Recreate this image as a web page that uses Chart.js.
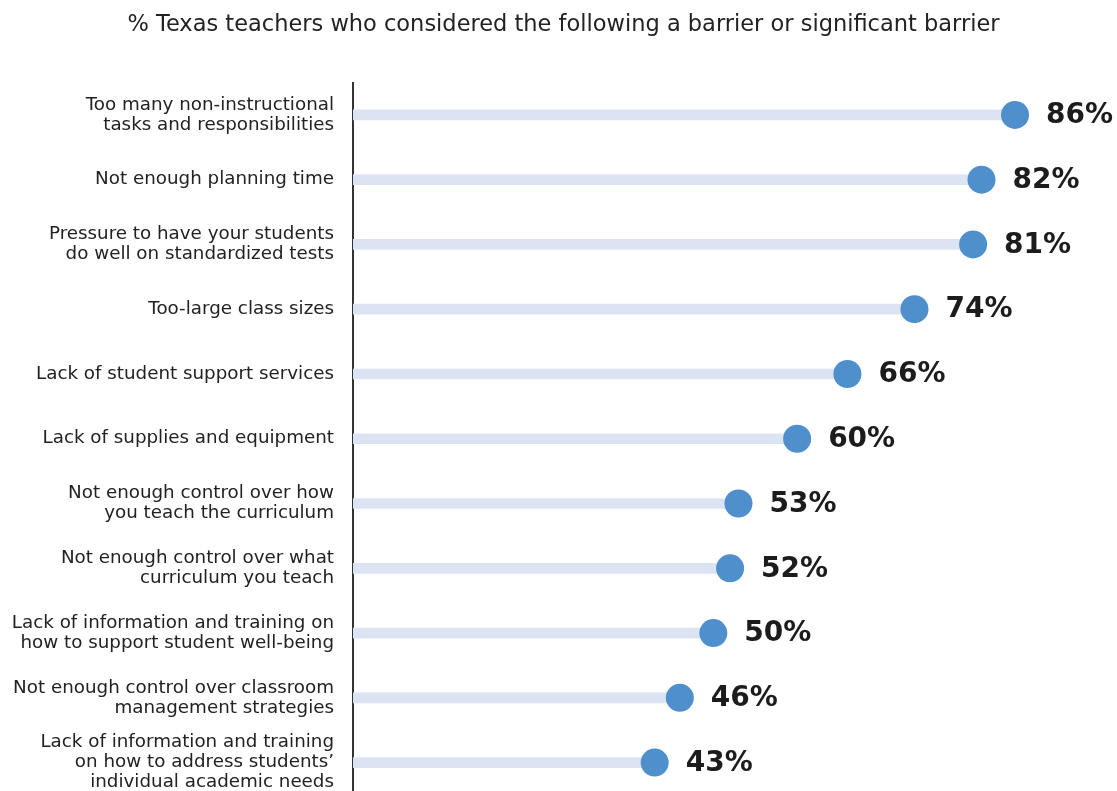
<!DOCTYPE html>
<html>
<head>
<meta charset="utf-8">
<script src="https://cdn.jsdelivr.net/npm/chart.js@4/dist/chart.umd.min.js"></script>
<style>
  html, body { margin: 0; padding: 0; background: #fff; overflow: hidden; }
  #wrap { width: 1117px; height: 809px; }
</style>
</head>
<body>
<div id="wrap"><canvas id="barrierChart"></canvas></div>
<script>
const barriers = [
    ['Too many non-instructional', 'tasks and responsibilities'],
    'Not enough planning time',
    ['Pressure to have your students', 'do well on standardized tests'],
    'Too-large class sizes',
    'Lack of student support services',
    'Lack of supplies and equipment',
    ['Not enough control over how', 'you teach the curriculum'],
    ['Not enough control over what', 'curriculum you teach'],
    ['Lack of information and training on', 'how to support student well-being'],
    ['Not enough control over classroom', 'management strategies'],
    ['Lack of information and training', 'on how to address students\u2019', 'individual academic needs']
];
const percents = [86, 82, 81, 74, 66, 60, 53, 52, 50, 46, 43];

const xMin = 7;
const xMax = 96.5;

// writes "86%" etc. to the right of each dot
const valueLabels = {
    id: 'valueLabels',
    afterDatasetsDraw(chart) {
        const ctx = chart.ctx;
        const meta = chart.getDatasetMeta(1);
        ctx.save();
        ctx.font = 'bold 28px "DejaVu Sans"';
        ctx.fillStyle = '#1c1c1c';
        ctx.textAlign = 'left';
        ctx.textBaseline = 'middle';
        meta.data.forEach((pt, i) => {
            ctx.fillText(percents[i] + '%', pt.x + 31, pt.y + 1);
        });
        ctx.restore();
    }
};

const ctx = document.getElementById('barrierChart').getContext('2d');
new Chart(ctx, {
    data: {
        labels: barriers,
        datasets: [
            {
                type: 'bar',
                data: percents,
                backgroundColor: '#dce4f4',
                barThickness: 10,
                borderWidth: 0,
                order: 2
            },
            {
                type: 'line',
                indexAxis: 'y',
                data: percents,
                showLine: false,
                pointRadius: 14,
                pointHoverRadius: 14,
                pointBackgroundColor: '#4f8fcc',
                pointBorderWidth: 0,
                clip: false,
                order: 1
            }
        ]
    },
    options: {
        indexAxis: 'y',
        responsive: true,
        maintainAspectRatio: false,
        animation: false,
        layout: { padding: { left: 10, right: 0, top: 0, bottom: 0 } },
        plugins: {
            legend: { display: false },
            tooltip: { enabled: false },
            title: {
                display: true,
                text: '% Texas teachers who considered the following a barrier or significant barrier',
                color: '#222',
                font: { family: '"DejaVu Sans"', size: 22.5, weight: '400', lineHeight: 1.2 },
                padding: { top: 12, bottom: 43.5 }
            }
        },
        scales: {
            x: {
                display: false,
                min: xMin,
                max: xMax
            },
            y: {
                afterFit(scale) {
                    scale.width = 343;
                    scale.paddingTop = 0;
                    scale.paddingBottom = 0;
                },
                grid: { display: false, drawTicks: false },
                border: { display: true, color: '#333', width: 2 },
                ticks: {
                    autoSkip: false,
                    color: '#222',
                    padding: 19,
                    font: { family: '"DejaVu Sans"', size: 18.3, lineHeight: 1.1 }
                }
            }
        }
    },
    plugins: [valueLabels]
});
</script>
</body>
</html>
